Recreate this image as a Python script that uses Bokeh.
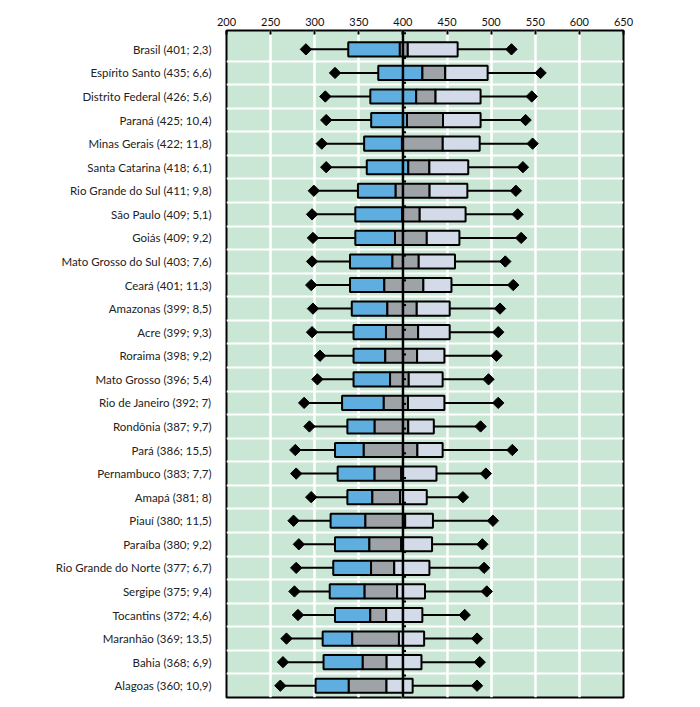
import math
from bokeh.plotting import figure
from bokeh.models import Range1d, FixedTicker, ColumnDataSource, Span
from bokeh.embed import file_html
from bokeh.resources import INLINE

names = ["Brasil", "Espírito Santo", "Distrito Federal", "Paraná", "Minas Gerais",
         "Santa Catarina", "Rio Grande do Sul", "São Paulo", "Goiás", "Mato Grosso do Sul",
         "Ceará", "Amazonas", "Acre", "Roraima", "Mato Grosso", "Rio de Janeiro",
         "Rondônia", "Pará", "Pernambuco", "Amapá", "Piauí", "Paraíba",
         "Rio Grande do Norte", "Sergipe", "Tocantins", "Maranhão", "Bahia", "Alagoas"]
mean = [401, 435, 426, 425, 422, 418, 411, 409, 409, 403, 401, 399, 399, 398, 396, 392,
        387, 386, 383, 381, 380, 380, 377, 375, 372, 369, 368, 360]
se = [2.3, 6.6, 5.6, 10.4, 11.8, 6.1, 9.8, 5.1, 9.2, 7.6, 11.3, 8.5, 9.3, 9.2, 5.4, 7,
      9.7, 15.5, 7.7, 8, 11.5, 9.2, 6.7, 9.4, 4.6, 13.5, 6.9, 10.9]
p5 = [290, 323, 312, 313, 308, 313, 299, 297, 298, 297, 296, 298, 297, 306, 303, 288,
      294, 278, 279, 296, 276, 282, 279, 277, 281, 268, 264, 261]
p25 = [338, 372, 363, 364, 356, 359, 349, 346, 346, 340, 340, 342, 344, 344, 344, 331,
       337, 323, 326, 337, 318, 323, 321, 317, 323, 309, 310, 301]
p75 = [462, 496, 488, 488, 487, 474, 473, 471, 464, 459, 455, 453, 453, 447, 445, 447,
       435, 445, 438, 427, 434, 433, 430, 425, 422, 424, 421, 411]
p95 = [523, 556, 546, 539, 547, 536, 528, 530, 534, 516, 525, 510, 508, 506, 497, 508,
       488, 524, 494, 468, 502, 490, 492, 495, 470, 484, 487, 484]
x_ticks = [200, 250, 300, 350, 400, 450, 500, 550, 600, 650]
ref_value = 400

n = len(names)
ys = list(range(n))
ci_lo = [m - 1.96 * s for m, s in zip(mean, se)]
ci_hi = [m + 1.96 * s for m, s in zip(mean, se)]


def fmt(v):
    return ("%g" % v).replace(".", ",")


labels = [f"{nm} ({m}; {fmt(s)})" for nm, m, s in zip(names, mean, se)]

src = ColumnDataSource(dict(y=ys, p5=p5, p25=p25, lo=ci_lo, hi=ci_hi, p75=p75, p95=p95))

Y_TOP = -0.8
Y_BOT = n - 0.5

p = figure(frame_width=397, frame_height=667,
           x_range=Range1d(200, 650), y_range=Range1d(Y_BOT, Y_TOP),
           x_axis_location="above", output_backend="svg", toolbar_location=None,
           min_border_left=226, min_border_top=30, min_border_right=40, min_border_bottom=6)
p.background_fill_color = "#cae6d4"
p.border_fill_color = "white"
p.outline_line_color = "black"
p.outline_line_width = 2

p.xaxis.ticker = FixedTicker(ticks=x_ticks)
p.xaxis.major_tick_in = 4
p.xaxis.major_tick_out = 0
p.xaxis.major_tick_line_width = 2
p.xaxis.major_tick_line_color = "black"
p.xaxis.minor_tick_line_color = None
p.xaxis.axis_line_color = None
p.xaxis.major_label_text_font = "Lato"
p.xaxis.major_label_text_font_size = "11px"
p.xaxis.major_label_text_color = "#111111"
p.xaxis.major_label_standoff = 5

p.yaxis.ticker = FixedTicker(ticks=ys)
p.yaxis.major_label_overrides = {i: lab for i, lab in enumerate(labels)}
p.yaxis.major_tick_line_color = None
p.yaxis.minor_tick_line_color = None
p.yaxis.axis_line_color = None
p.yaxis.major_label_text_font = "Lato"
p.yaxis.major_label_text_font_size = "11.5px"
p.yaxis.major_label_text_color = "#222222"
p.yaxis.major_label_standoff = 9

p.xgrid.grid_line_color = "white"
p.xgrid.grid_line_width = 2.5
p.ygrid.ticker = FixedTicker(ticks=[i + 0.5 for i in range(n - 1)])
p.ygrid.grid_line_color = "white"
p.ygrid.grid_line_width = 2

# whiskers
p.segment(x0="p5", y0="y", x1="p95", y1="y", source=src, line_color="black", line_width=2)
p.scatter(x="p5", y="y", source=src, marker="square", angle=math.pi / 4, size=8,
          fill_color="black", line_color="black")
p.scatter(x="p95", y="y", source=src, marker="square", angle=math.pi / 4, size=8,
          fill_color="black", line_color="black")

# boxes
h = 0.6
p.hbar(y="y", left="p25", right="lo", height=h, source=src, fill_color="#5eaee0",
       line_color="black", line_width=2)
p.hbar(y="y", left="lo", right="hi", height=h, source=src, fill_color="#9ea3a8",
       line_color="black", line_width=2)
p.hbar(y="y", left="hi", right="p75", height=h, source=src, fill_color="#d3dbe8",
       line_color="black", line_width=2)

# reference line at 400 with small marks
p.add_layout(Span(location=ref_value, dimension="height", line_color="black", line_width=2.5))
mark_y = [Y_TOP + k * (Y_BOT - Y_TOP) / (n - 1) + 0.12 for k in range(n)]
p.segment(x0=[ref_value] * n, x1=[ref_value + 3.5] * n, y0=mark_y, y1=mark_y,
          line_color="black", line_width=2)

open("out.html", "w").write(file_html(p, INLINE))
